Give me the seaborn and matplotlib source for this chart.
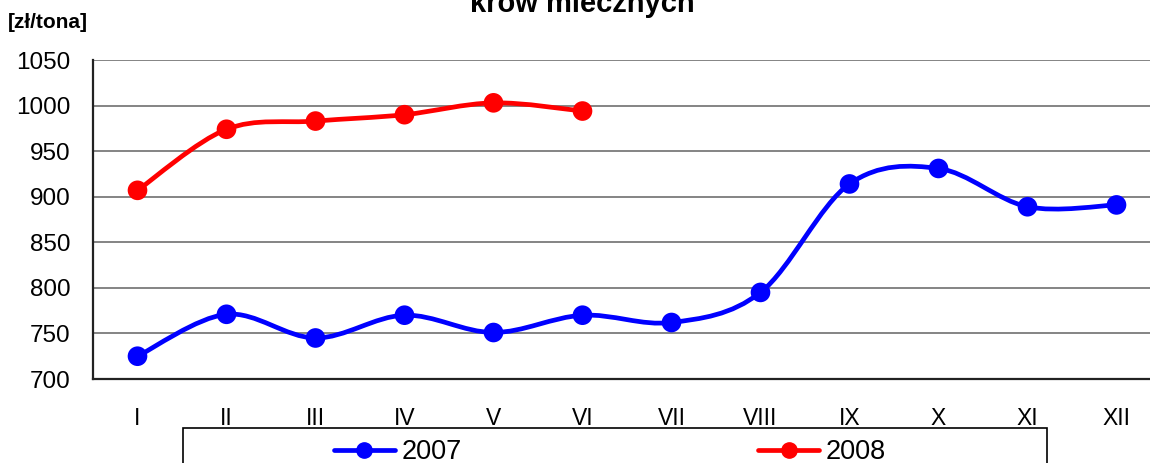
import numpy as np
import pandas as pd
import seaborn as sns
import matplotlib.pyplot as plt
from matplotlib.path import Path
from matplotlib.patches import PathPatch, Rectangle
from matplotlib.lines import Line2D

'''
dane
'''
months = ['I', 'II', 'III', 'IV', 'V', 'VI', 'VII', 'VIII', 'IX', 'X', 'XI', 'XII']
y2007 = [725, 771, 745, 770, 751, 770, 762, 795, 914, 931, 889, 891]
y2008 = [907, 974, 983, 990, 1003, 994]
blue = '#0000FF'
red = '#FF0000'

sns.set_style('white')
plt.rcParams['font.family'] = ['Liberation Sans', 'DejaVu Sans']
plt.rcParams['text.color'] = 'black'
plt.rcParams['xtick.color'] = 'black'
plt.rcParams['ytick.color'] = 'black'

W, H = 1150, 463


def smooth_path(xs, ys):
    # krzywa Beziera jak "wygładzona linia" w Excelu
    pts = np.column_stack([xs, ys]).astype(float)
    n = len(pts)
    verts = [pts[0]]
    codes = [Path.MOVETO]
    for i in range(n - 1):
        p0 = pts[i - 1] if i > 0 else pts[i]
        p1 = pts[i]
        p2 = pts[i + 1]
        p3 = pts[i + 2] if i + 2 < n else pts[i + 1]
        c1 = p1 + (p2 - p0) / 6
        c2 = p2 - (p3 - p1) / 6
        verts += [c1, c2, p2]
        codes += [Path.CURVE4] * 3
    return Path(verts, codes)


fig = plt.figure(figsize=(W / 100, H / 100), dpi=100)
ax = fig.add_axes([93 / W, 1 - 379 / H, 1068 / W, 319 / H])

df = pd.concat([
    pd.DataFrame({'x': range(len(y2007)), 'y': y2007, 'rok': '2007'}),
    pd.DataFrame({'x': range(len(y2008)), 'y': y2008, 'rok': '2008'}),
])

for rok, col in [('2007', blue), ('2008', red)]:
    d = df[df.rok == rok]
    ax.add_patch(PathPatch(smooth_path(d.x, d.y), facecolor='none',
                           edgecolor=col, lw=3.4, zorder=3))

sns.scatterplot(data=df, x='x', y='y', hue='rok', palette=[blue, red],
                s=200, linewidth=0, legend=False, zorder=4, ax=ax)

ax.set_xlim(-0.5, 11.5)
ax.set_ylim(700, 1050)
ax.set_yticks(range(700, 1051, 50))
ax.set_xticks(range(12))
ax.set_xticklabels(months)
ax.set_xticks(np.arange(0.5, 11.5, 1), minor=True)
ax.tick_params(axis='x', which='major', length=0, pad=20, labelsize=16.5)
ax.tick_params(axis='x', which='minor', direction='in', length=7, width=1, color='#444444')
ax.tick_params(axis='y', direction='out', length=5, width=1, color='#444444', labelsize=17.5, pad=11)
ax.set_xlabel('')
ax.set_ylabel('')
ax.grid(axis='y', color='#707070', lw=1.2)
ax.set_axisbelow(True)
for s in ['top', 'right']:
    ax.spines[s].set_visible(False)
for s in ['left', 'bottom']:
    ax.spines[s].set_color('#222222')
    ax.spines[s].set_linewidth(1.6)

fig.text(8 / W, 1 - 28 / H, '[zł/tona]', fontsize=15, fontweight='bold', va='baseline')
fig.text(582 / W, 1 - 12 / H, 'krów mlecznych', fontsize=21, fontweight='bold',
         ha='center', va='baseline')

# ramka legendy
fig.add_artist(Rectangle((183 / W, -0.05), 864 / W, 0.05 + 1 - 428 / H,
                         transform=fig.transFigure, facecolor='white',
                         edgecolor='black', lw=1.2, zorder=1))

handles = [Line2D([], [], color=blue, lw=3.4, marker='o', markersize=11),
           Line2D([], [], color=red, lw=3.4, marker='o', markersize=11)]
leg = fig.legend(handles, ['2007', '2008'], loc='center', ncol=2,
                 bbox_to_anchor=(610 / W, 1 - 452 / H),
                 fontsize=19.5, frameon=False,
                 handlelength=2.25, handletextpad=0.25, borderpad=0,
                 columnspacing=10.95)
leg.set_zorder(2)

fig.savefig('out.png', dpi=100)
